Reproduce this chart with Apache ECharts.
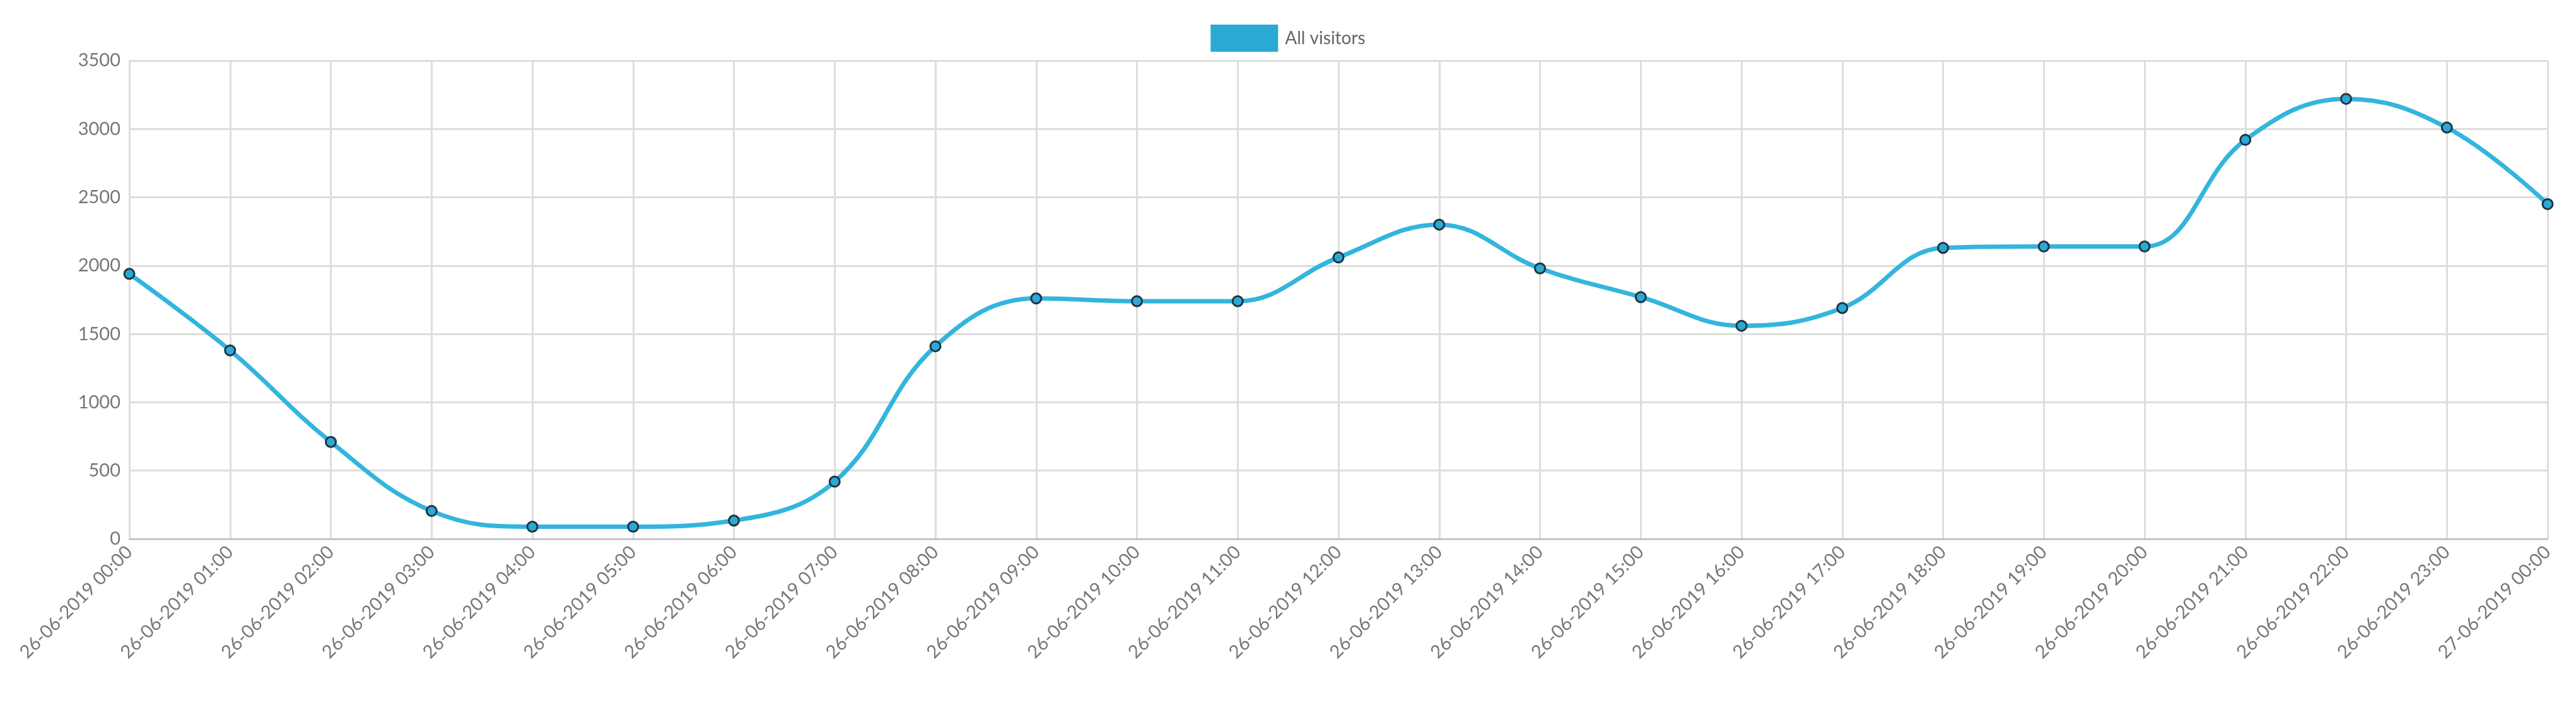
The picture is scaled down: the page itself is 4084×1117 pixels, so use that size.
<!DOCTYPE html>
<html><head><meta charset="utf-8">
<script src="https://cdn.jsdelivr.net/npm/echarts@6/dist/echarts.min.js"></script>
<style>html,body{margin:0;padding:0;background:#fff}#c{width:4084px;height:1117px}</style>
</head><body><div id="c"></div>
<script>
const categories = ["26-06-2019 00:00","26-06-2019 01:00","26-06-2019 02:00","26-06-2019 03:00","26-06-2019 04:00","26-06-2019 05:00","26-06-2019 06:00","26-06-2019 07:00","26-06-2019 08:00","26-06-2019 09:00","26-06-2019 10:00","26-06-2019 11:00","26-06-2019 12:00","26-06-2019 13:00","26-06-2019 14:00","26-06-2019 15:00","26-06-2019 16:00","26-06-2019 17:00","26-06-2019 18:00","26-06-2019 19:00","26-06-2019 20:00","26-06-2019 21:00","26-06-2019 22:00","26-06-2019 23:00","27-06-2019 00:00"];
const allVisitors = [1940,1380,710,205,90,90,135,420,1410,1760,1740,1740,2060,2300,1980,1770,1560,1690,2130,2140,2140,2920,3220,3010,2450];
const chart = echarts.init(document.getElementById('c'));
const font = 'Lato, "DejaVu Sans", sans-serif';
chart.setOption({
  animation:false,
  textStyle:{fontFamily:font},
  legend:{top:34,left:'center',itemWidth:107,itemHeight:43,icon:'rect',itemGap:10,
    itemStyle:{borderWidth:0},
    textStyle:{fontSize:28,color:'#666',fontFamily:font,padding:[0,0,0,6]},data:['All visitors']},
  grid:{left:205,right:45,top:96,bottom:263},
  xAxis:{type:'category',boundaryGap:false,data:categories,
    axisLine:{lineStyle:{color:'#bbb',width:2}},axisTick:{show:false},
    axisLabel:{rotate:45,fontSize:29,color:'#777',margin:16,fontFamily:font,interval:0},
    splitLine:{show:true,lineStyle:{color:'#ddd',width:3}}},
  yAxis:{type:'value',min:0,max:3500,interval:500,
    axisLine:{show:true,lineStyle:{color:'#ddd',width:3}},axisTick:{show:false},
    axisLabel:{fontSize:29,color:'#777',fontFamily:font,margin:14,formatter:v=>String(v)},
    splitLine:{lineStyle:{color:'#ddd',width:3}}},
  series:[{name:'All visitors',type:'line',smooth:0.4,data:allVisitors,
    lineStyle:{color:'#33b5dd',width:7},
    itemStyle:{color:'#2aa9d2',borderColor:'#234',borderWidth:3},
    symbol:'circle',symbolSize:16}]
});
</script></body></html>
